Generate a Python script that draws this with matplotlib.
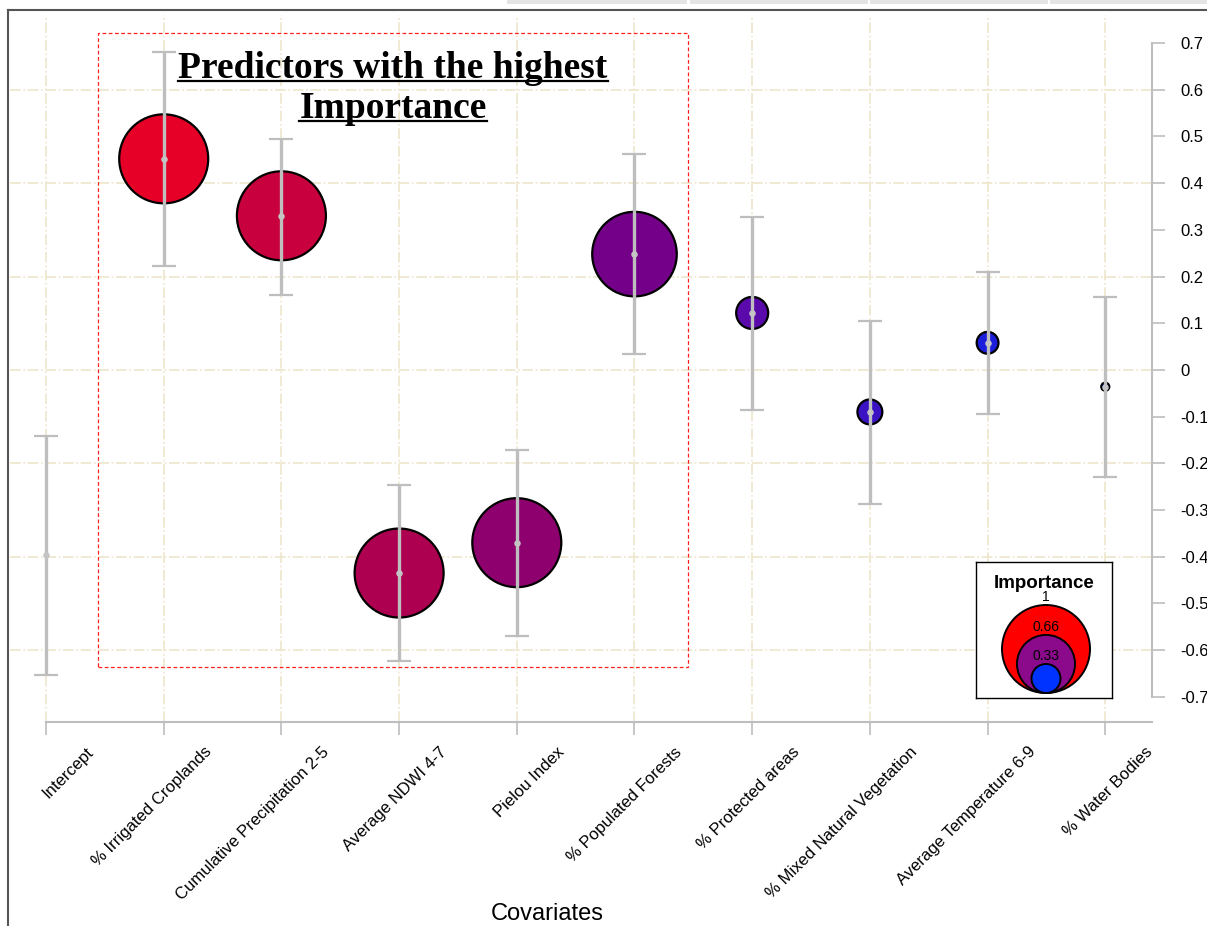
import numpy as np
import matplotlib
matplotlib.use("Agg")
import matplotlib.pyplot as plt
from matplotlib.patches import Rectangle, Circle
from matplotlib.lines import Line2D
from matplotlib.transforms import ScaledTranslation

# data
covariates = ["Intercept", "% Irrigated Croplands", "Cumulative Precipitation 2-5",
              "Average NDWI 4-7", "Pielou Index", "% Populated Forests",
              "% Protected areas", "% Mixed Natural Vegetation",
              "Average Temperature 6-9", "% Water Bodies"]
estimate = [-0.396, 0.452, 0.330, -0.435, -0.370, 0.248, 0.122, -0.090, 0.058, -0.036]
lower = [-0.653, 0.223, 0.161, -0.623, -0.570, 0.034, -0.086, -0.287, -0.094, -0.229]
upper = [-0.141, 0.681, 0.495, -0.246, -0.171, 0.463, 0.328, 0.105, 0.210, 0.156]
importance = [0.0, 1.0, 1.0, 1.0, 1.0, 0.95, 0.36, 0.28, 0.245, 0.09]
point_colors = ["#FFFFFF", "#E60028", "#C8003E", "#AE0050", "#8E006E", "#74008A",
                "#5A0AAA", "#3A12C4", "#1C1EDC", "#0A28F0"]
y_ticks = [0.7, 0.6, 0.5, 0.4, 0.3, 0.2, 0.1, 0, -0.1, -0.2, -0.3, -0.4, -0.5, -0.6, -0.7]
y_ticklabels = ["0.7", "0.6", "0.5", "0.4", "0.3", "0.2", "0.1", "0",
                "-0.1", "-0.2", "-0.3", "-0.4", "-0.5", "-0.6", "-0.7"]
legend_values = [1, 0.66, 0.33]
legend_labels = ["1", "0.66", "0.33"]
legend_colors = ["#FF0000", "#8B0A8B", "#0033FF"]

W, H = 1207, 926
DPI = 100
R_MAX = 44.5  # px radius for importance 1

plt.rcParams["font.family"] = ["Liberation Sans", "DejaVu Sans"]
fig = plt.figure(figsize=(W / DPI, H / DPI), dpi=DPI)

ax = fig.add_axes([10 / W, 1 - 722 / H, (1152 - 10) / W, (722 - 15) / H])
ax.set_xlim(-0.306, 9.397)
ax.set_ylim(-0.754, 0.760)

x = np.arange(len(covariates))
grid_color = "#EEE6CC"
for xi in x:
    ax.axvline(xi, color=grid_color, lw=1.2, ls="-.", zorder=0)
for yv in [0.6, 0.4, 0.2, 0, -0.2, -0.4, -0.6]:
    ax.axhline(yv, color=grid_color, lw=1.2, ls="-.", zorder=0)

# bubbles (radius in px proportional to importance)
sizes = [(2 * R_MAX * imp * 72 / DPI) ** 2 for imp in importance]
ax.scatter(x, estimate, s=sizes, c=point_colors, edgecolors="black",
           linewidths=1.6, zorder=2)

# error bars
yerr = [np.array(estimate) - np.array(lower), np.array(upper) - np.array(estimate)]
ax.errorbar(x, estimate, yerr=yerr, fmt="none", ecolor="#BEBEBE", elinewidth=2.4,
            capsize=8.5, capthick=1.6, zorder=3)
ax.scatter(x, estimate, s=22, color="#C4C4C4", zorder=4, linewidths=0)

# highlight box
ax.add_patch(Rectangle((0.442, -0.636), 5.455 - 0.442, 0.722 + 0.636, fill=False,
                       edgecolor="#FF2020", lw=0.9, ls=(0, (3, 2)), zorder=5))

# axes styling
for side in ["top", "left"]:
    ax.spines[side].set_visible(False)
ax.spines["bottom"].set_color("#BEBEBE")
ax.spines["bottom"].set_linewidth(1.5)
ax.spines["bottom"].set_bounds(0, 9.397)
ax.spines["right"].set_color("#BEBEBE")
ax.spines["right"].set_linewidth(1.5)
ax.spines["right"].set_bounds(-0.7, 0.7)

ax.yaxis.tick_right()
ax.set_yticks(y_ticks)
ax.set_yticklabels(y_ticklabels)
ax.tick_params(axis="y", direction="out", length=9.5, width=1.2, color="#BEBEBE",
               pad=11, labelsize=12)
ax.set_xticks(x)
ax.set_xticklabels(covariates, rotation=45, ha="right", rotation_mode="anchor")
ax.tick_params(axis="x", direction="out", length=9, width=1.2, color="#BEBEBE",
               pad=7, labelsize=12)
offset = ScaledTranslation(40 / DPI, 0, fig.dpi_scale_trans)
for lab in ax.get_xticklabels():
    lab.set_transform(lab.get_transform() + offset)

fig.text(547 / W, 1 - 914 / H, "Covariates", ha="center", va="center", fontsize=17)

# title with underline
title_font = dict(family=["Liberation Serif", "DejaVu Serif"], weight="bold", fontsize=27)
t1 = fig.text(393 / W, 1 - 78 / H, "Predictors with the highest", ha="center",
              va="baseline", **title_font)
t2 = fig.text(393 / W, 1 - 118 / H, "Importance", ha="center", va="baseline", **title_font)
fig.canvas.draw()
renderer = fig.canvas.get_renderer()
for t, ybase in [(t1, 78), (t2, 118)]:
    bb = t.get_window_extent(renderer)
    yl = 1 - (ybase + 3) / H
    fig.add_artist(Line2D([bb.x0 / W, bb.x1 / W], [yl, yl], color="black", lw=1.6))

# legend box
lax = fig.add_axes([976 / W, 1 - 698 / H, 136 / W, 136 / H])
lax.set_xlim(0, 136)
lax.set_ylim(136, 0)
lax.set_xticks([])
lax.set_yticks([])
for sp in lax.spines.values():
    sp.set_linewidth(1.0)
    sp.set_color("black")
lax.text(68, 21, "Importance", ha="center", va="center", fontsize=13.5, weight="bold")
bottom = 131
cx = 70
for val, col, lab in zip(legend_values, legend_colors, legend_labels):
    r = 44 * val
    lax.add_patch(Circle((cx, bottom - r), r, facecolor=col, edgecolor="black", lw=1.4))
    lax.text(cx, bottom - 2 * r - 1, lab, ha="center", va="bottom", fontsize=10)

# frame of the surrounding window
fig.add_artist(Line2D([8 / W, 8 / W], [0, 1 - 10 / H], color="#555555", lw=1.5))
fig.add_artist(Line2D([8 / W, 1], [1 - 10 / H, 1 - 10 / H], color="#555555", lw=1.5))
for x0, x1 in [(507, 687), (690, 868), (870, 1048), (1050, 1207)]:
    fig.add_artist(Rectangle((x0 / W, 1 - 4 / H), (x1 - x0) / W, 4 / H,
                             facecolor="#E4E4E4", edgecolor="none"))

fig.savefig("out.png", dpi=DPI)
